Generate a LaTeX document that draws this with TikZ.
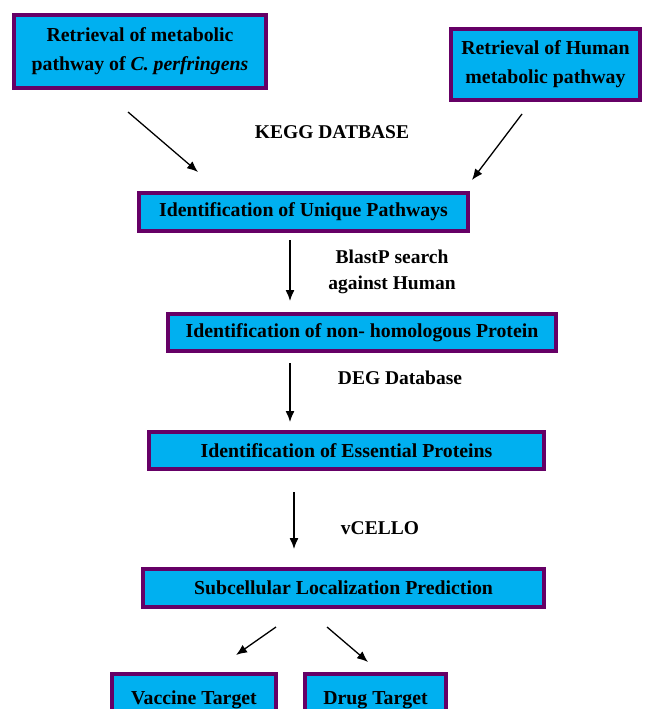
\documentclass[tikz,border=0pt]{standalone}
\usepackage{fontspec}
\setmainfont{Liberation Serif}
\usepackage{xcolor}
\usepackage{tikz}
\usetikzlibrary{arrows.meta}
\definecolor{boxfill}{HTML}{00B0F0}
\definecolor{boxline}{HTML}{660066}

\begin{document}
\begin{tikzpicture}[x=1pt,y=-1pt,
    stepbox/.style={draw=boxline, fill=boxfill, line width=4pt, inner sep=0pt,
        font=\fontsize{19.8}{29}\selectfont\bfseries, align=center},
    label/.style={font=\fontsize{19.5}{26}\selectfont\bfseries, align=center},
    flow/.style={-{Latex[length=11pt,width=9pt]}, line width=1.3pt}]
\clip (0,0) rectangle (645,709);
\fill[white] (0,0) rectangle (645,709);

\node[stepbox, minimum width=252pt, minimum height=73pt] (cperf) at (140,51.5)
    {Retrieval of metabolic\\ pathway of \textit{C. perfringens}};
\node[stepbox, minimum width=189pt, minimum height=71pt] (human) at (545.5,64.5)
    {Retrieval of Human\\ metabolic pathway};
\node[stepbox, minimum width=329pt, minimum height=38pt] (unique) at (303.5,212)
    {Identification of Unique Pathways};
\node[stepbox, minimum width=388pt, minimum height=37pt] (nonhom) at (362,332.5)
    {Identification of non- homologous Protein};
\node[stepbox, minimum width=395pt, minimum height=37pt] (essential) at (346.5,450.5)
    {Identification of Essential Proteins};
\node[stepbox, minimum width=401pt, minimum height=38pt] (subcell) at (343.5,588)
    {Subcellular Localization Prediction};
\node[stepbox, minimum width=164pt, minimum height=52pt] (vaccine) at (194,700)
    {Vaccine Target};
\node[stepbox, minimum width=141pt, minimum height=52pt] (drug) at (375.5,700)
    {Drug Target};

\node[label] (kegg) at (332,132) {KEGG DATBASE};
\node[label] (blastp) at (392,272) {BlastP search\\ against Human};
\node[label] (deg) at (400,378) {DEG Database};
\node[label] (vcello) at (380,528) {vCELLO};

% arrows
\coordinate (a1) at (128,112);
\coordinate (a2) at (198,172);
\coordinate (b1) at (522,114);
\coordinate (b2) at (472,180);
\draw[flow] (a1) -- (a2);
\draw[flow] (b1) -- (b2);
\draw[flow] ([xshift=-13.5pt,yshift=-7pt]unique.south) -- ([xshift=-72pt,yshift=11pt]nonhom.north);
\draw[flow] ([xshift=-72pt,yshift=-10pt]nonhom.south) -- ([xshift=-56.5pt,yshift=8pt]essential.north);
\draw[flow] ([xshift=-52.5pt,yshift=-21pt]essential.south) -- ([xshift=-49.5pt,yshift=18pt]subcell.north);
\draw[flow] ([xshift=-67.5pt,yshift=-18pt]subcell.south) -- ([xshift=42pt,yshift=17pt]vaccine.north);
\draw[flow] ([xshift=-16.5pt,yshift=-18pt]subcell.south) -- ([xshift=-7.5pt,yshift=10pt]drug.north);
\end{tikzpicture}
\end{document}
